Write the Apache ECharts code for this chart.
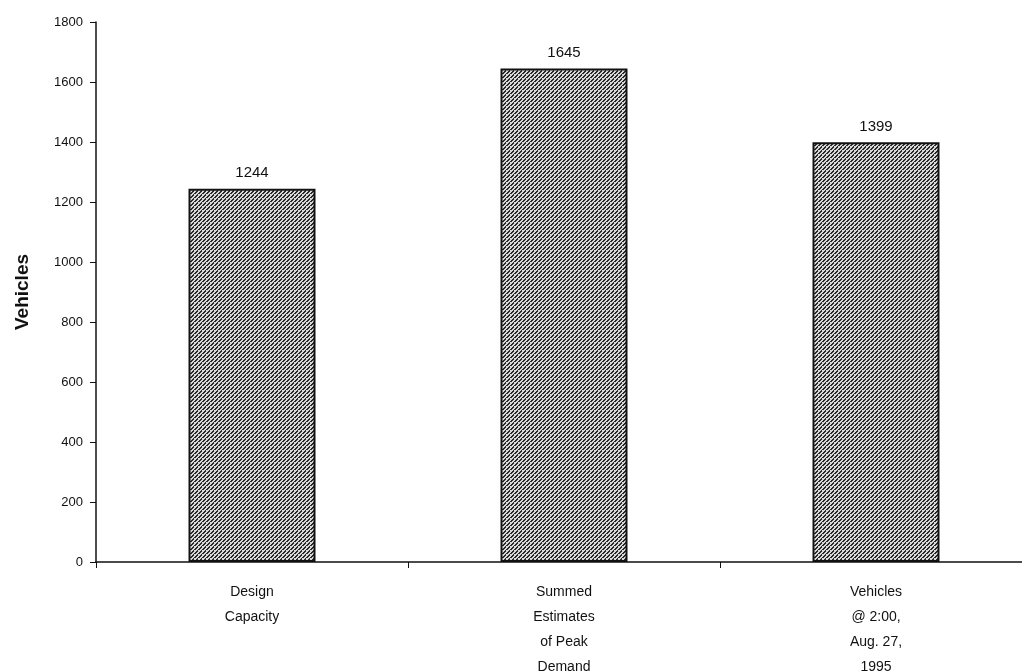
<!DOCTYPE html>
<html><head><meta charset="utf-8">
<script src="https://cdn.jsdelivr.net/npm/echarts@6/dist/echarts.min.js"></script>
<style>html,body{margin:0;padding:0;background:#fff}#c{width:1022px;height:672px}</style>
</head><body><div id="c"></div>
<script>
var categories = ['Design\nCapacity', 'Summed\nEstimates\nof Peak\nDemand', 'Vehicles\n@ 2:00,\nAug. 27,\n1995'];
var values = [1244, 1645, 1399];
var yTitle = 'Vehicles';

var pc = document.createElement('canvas');
pc.width = 4; pc.height = 4;
var ctx = pc.getContext('2d');
ctx.fillStyle = '#d8d8d8'; ctx.fillRect(0,0,4,4);
ctx.fillStyle = '#2a2a2a';
[[0,3],[1,2],[2,1],[3,0],[1,3],[3,1],[0,0]].forEach(function(p){ctx.fillRect(p[0],p[1],1,1);});

var chart = echarts.init(document.getElementById('c'), null, {renderer:'canvas'});
chart.setOption({
  animation:false,
  backgroundColor:'#fff',
  grid:{left:96, width:936, top:22, bottom:110, containLabel:false, outerBoundsMode:'none'},
  xAxis:{type:'category', data:categories,
    axisLine:{lineStyle:{color:'#111', width:1.5}},
    axisTick:{show:true, length:6, lineStyle:{color:'#111'}},
    axisLabel:{color:'#111', fontFamily:'Liberation Sans, Arial', fontSize:14, lineHeight:25, margin:18}
  },
  yAxis:{type:'value', min:0, max:1800, interval:200,
    name:yTitle, nameLocation:'middle', nameGap:64, nameRotate:90,
    nameTextStyle:{color:'#111', fontFamily:'Liberation Sans, Arial', fontSize:19, fontWeight:'bold'},
    axisLine:{show:true, lineStyle:{color:'#111', width:1.5}},
    axisTick:{show:true, length:6, lineStyle:{color:'#111'}},
    splitLine:{show:false},
    axisLabel:{color:'#111', fontFamily:'Liberation Sans, Arial', fontSize:13, margin:13,
      formatter:function(v){return String(v);}}
  },
  series:[{type:'bar', data:values, barWidth:'40.7%',
    itemStyle:{color:{image:pc, repeat:'repeat'}, borderColor:'#111', borderWidth:2},
    label:{show:true, position:'top', distance:8, color:'#111', fontFamily:'Liberation Sans, Arial', fontSize:15}
  }]
});
</script></body></html>
